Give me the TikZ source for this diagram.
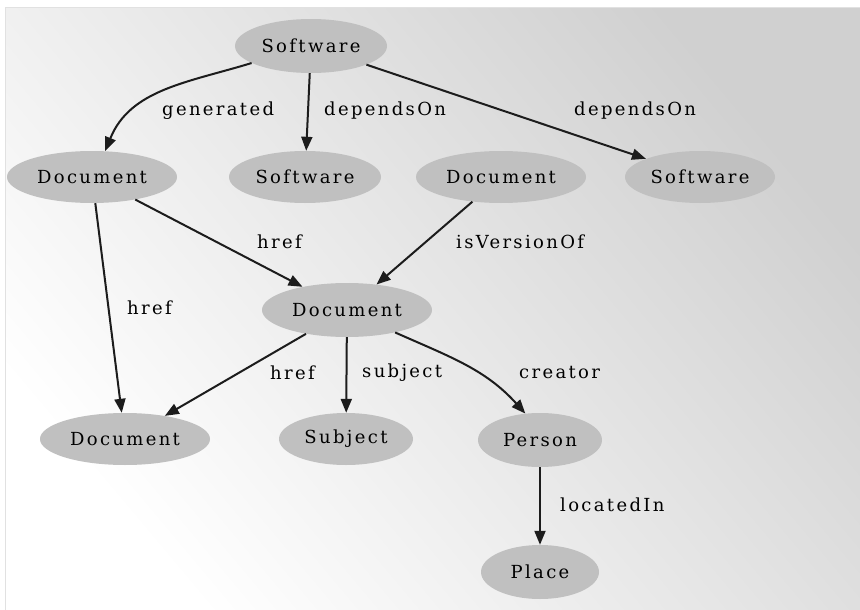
\documentclass[tikz,border=0pt]{standalone}
\usepackage{fontspec}
\setmainfont[LetterSpace=13]{DejaVu Serif}
\usetikzlibrary{arrows.meta,shapes.geometric}
\definecolor{ellfill}{HTML}{C0C0C0}
\definecolor{edgecol}{HTML}{1C1C1C}
\definecolor{bglight}{HTML}{FFFFFF}
\definecolor{bgdark}{HTML}{D0D0D0}
\definecolor{bgline}{HTML}{E1E1E1}
\tikzset{
  ent/.style={ellipse, fill=ellfill, draw=none, inner sep=0pt, font=\fontsize{18}{21}\selectfont},
  lbl/.style={anchor=west, inner sep=0pt, font=\fontsize{18}{21}\selectfont},
  arr/.style={draw=edgecol, line width=2pt, -{Triangle[length=14pt,width=11pt]}},
}
\begin{document}
\begin{tikzpicture}[x=1pt,y=-1pt]
\useasboundingbox (0,0) rectangle (860,610);
\fill[white] (0,0) rectangle (860,610);
\shade[left color=bglight, right color=bgdark, shading angle=130] (6,8) rectangle (860,610);
\draw[line width=1pt, bgline] (5.5,610) -- (5.5,7.5) -- (860,7.5);

% nodes
\node[ent, minimum width=152pt, minimum height=54pt] (sw)   at (311,46)  {Software};
\node[ent, minimum width=170pt, minimum height=52pt] (doca) at (92,177)  {Document};
\node[ent, minimum width=152pt, minimum height=52pt] (swb)  at (305,177) {Software};
\node[ent, minimum width=170pt, minimum height=52pt] (docb) at (501,177) {Document};
\node[ent, minimum width=150pt, minimum height=52pt] (swc)  at (700,177) {Software};
\node[ent, minimum width=170pt, minimum height=54pt] (docc) at (347,310) {Document};
\node[ent, minimum width=170pt, minimum height=52pt] (docd) at (125,439) {Document};
\node[ent, minimum width=134pt, minimum height=52pt] (subj) at (346,439) {Subject};
\node[ent, minimum width=124pt, minimum height=54pt] (pers) at (540,440) {Person};
\node[ent, minimum width=118pt, minimum height=54pt] (plac) at (540,572) {Place};

% edges
\draw[arr] (sw.196) to[out=197, in=68] (doca.63);
\draw[arr] (sw) -- (swb);
\draw[arr] (sw) -- (swc);
\draw[arr] (doca) -- (docc);
\draw[arr] (doca) -- (docd);
\draw[arr] (docb) -- (docc);
\draw[arr] (docc) -- (docd);
\draw[arr] (docc) -- (subj);
\draw[arr] (docc.335) to[out=336, in=132] (pers.119);
\draw[arr] (pers) -- (plac);

% labels
\node[lbl] (l1)  at (162,111) {generated};
\node[lbl] (l2)  at (324,111) {dependsOn};
\node[lbl] (l3)  at (574,111) {dependsOn};
\node[lbl] (l4)  at (257,242) {href};
\node[lbl] (l5)  at (127,308) {href};
\node[lbl] (l6)  at (456,242) {isVersionOf};
\node[lbl] (l7)  at (270,373) {href};
\node[lbl] (l8)  at (362,373) {subject};
\node[lbl] (l9)  at (519,373) {creator};
\node[lbl] (l10) at (560,505) {locatedIn};
\end{tikzpicture}
\end{document}
